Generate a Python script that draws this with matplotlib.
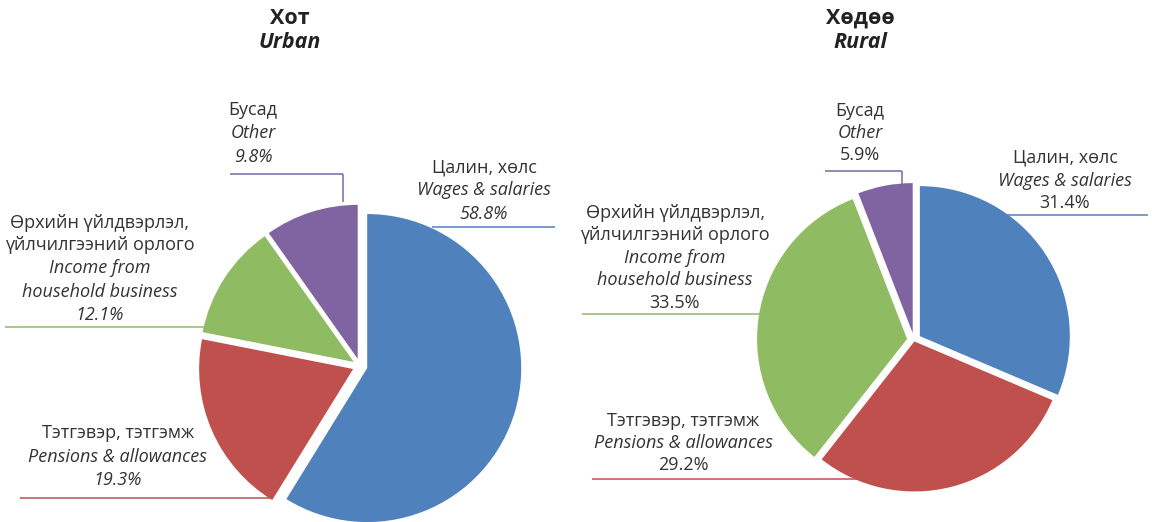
import matplotlib
matplotlib.use('Agg')
import matplotlib.pyplot as plt

# ---- data ----
categories_mn = ["Цалин, хөлс", "Тэтгэвэр, тэтгэмж",
                 "Өрхийн үйлдвэрлэл,\nүйлчилгээний орлого", "Бусад"]
categories_en = ["Wages & salaries", "Pensions & allowances",
                 "Income from\nhousehold business", "Other"]
urban_values = [58.8, 19.3, 12.1, 9.8]
rural_values = [31.4, 29.2, 33.5, 5.9]
titles_mn = ["Хот", "Хөдөө"]
titles_en = ["Urban", "Rural"]

colors = ["#4F81BD", "#C0504D", "#8FBB62", "#8064A2"]
TXT = "#333333"
FAM = ["Open Sans", "Noto Sans", "DejaVu Sans"]

W, H = 1152, 522
fig = plt.figure(figsize=(W / 100, H / 100), dpi=100)
ax = fig.add_axes([0, 0, 1, 1])


def Y(y):
    return H - y


def draw_pie(values, cx, cy, R, explode):
    ax.pie(values, colors=colors, startangle=90, counterclock=False,
           center=(cx, Y(cy)), radius=R, explode=explode, frame=True,
           wedgeprops=dict(linewidth=0))


def label(x, ys, idx, values, pct_italic):
    lines = []
    for l in categories_mn[idx].split("\n"):
        lines.append((l, "normal"))
    for l in categories_en[idx].split("\n"):
        lines.append((l, "italic"))
    lines.append((f"{values[idx]:.1f}%", "italic" if pct_italic else "normal"))
    for (t, st), y in zip(lines, ys):
        ax.text(x, Y(y), t, ha="center", va="center", fontsize=13,
                style=st, color=TXT, family=FAM)


def hline(x1, x2, y, c):
    ax.plot([x1, x2], [Y(y), Y(y)], color=c, lw=1.1, solid_capstyle="butt")


def vline(x, y1, y2, c):
    ax.plot([x, x], [Y(y1), Y(y2)], color=c, lw=1.1, solid_capstyle="butt")


def title(x, i):
    ax.text(x, Y(18), titles_mn[i], ha="center", va="center", fontsize=15.5,
            weight="bold", color="#222222", family=FAM)
    ax.text(x, Y(43), titles_en[i], ha="center", va="center", fontsize=15.5,
            weight="bold", style="italic", color="#222222", family=FAM)


# ---- Urban ----
draw_pie(urban_values, 360, 366, 154, [7.5, 7.5, 7.5, 7.5])
title(290, 0)
label(484, [168, 190, 214], 0, urban_values, True)
hline(432, 555, 227, colors[0])
label(253, [110, 133, 157], 3, urban_values, True)
hline(230, 343, 174, colors[3])
vline(343, 174, 202, colors[3])
label(100, [223, 245, 268, 292, 315], 2, urban_values, True)
hline(5, 205, 327, colors[2])
label(118, [433, 457, 480], 1, urban_values, True)
hline(20, 272, 498, colors[1])

# ---- Rural ----
draw_pie(rural_values, 914, 340, 150, [7.0, 1.5, 7.0, 7.0])
title(860, 1)
label(1065, [158, 181, 203], 0, rural_values, False)
hline(1000, 1148, 215, colors[0])
label(860, [111, 133, 155], 3, rural_values, False)
hline(825, 902, 171, colors[3])
vline(902, 171, 187, colors[3])
label(675, [213, 235, 258, 280, 303], 2, rural_values, False)
hline(582, 760, 314, colors[2])
label(683, [421, 443, 465], 1, rural_values, False)
hline(592, 880, 479, colors[1])

ax.set_xlim(0, W)
ax.set_ylim(0, H)
ax.set_aspect("equal")
ax.axis("off")
fig.savefig("out.png", dpi=100)
